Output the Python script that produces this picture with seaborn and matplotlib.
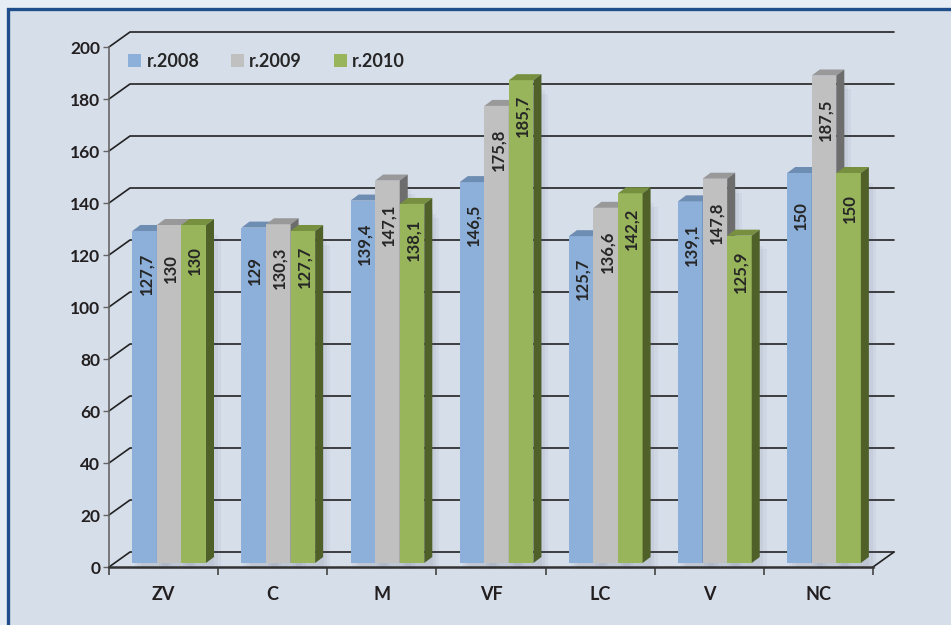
# 3D-style grouped bar chart (r.2008 / r.2009 / r.2010) redrawn with seaborn
import pandas as pd
import seaborn as sns
import matplotlib.pyplot as plt
from matplotlib.patches import Polygon, Patch, Rectangle
from matplotlib.transforms import ScaledTranslation

# Step 1: data
categories = ['ZV', 'C', 'M', 'VF', 'LC', 'V', 'NC']
years = ['r.2008', 'r.2009', 'r.2010']
v2008 = [127.7, 129, 139.4, 146.5, 125.7, 139.1, 150]
v2009 = [130, 130.3, 147.1, 175.8, 136.6, 147.8, 187.5]
v2010 = [130, 127.7, 138.1, 185.7, 142.2, 125.9, 150]
yticks = list(range(0, 201, 20))

df = pd.DataFrame({
    'cat': categories * 3,
    'year': [years[0]] * 7 + [years[1]] * 7 + [years[2]] * 7,
    'value': v2008 + v2009 + v2010,
})

# colours: front, top, side
front = {'r.2008': '#8db0da', 'r.2009': '#c0c0c0', 'r.2010': '#98b55b'}
top = {'r.2008': '#6e8db3', 'r.2009': '#999999', 'r.2010': '#76903f'}
side = {'r.2008': '#55729a', 'r.2009': '#6d6d6d', 'r.2010': '#4f6129'}

# Step 2: figure and frame
sns.set_style('white')
plt.rcParams['font.family'] = ['Lato', 'DejaVu Sans']
W, H = 951, 625
fig = plt.figure(figsize=(W / 100, H / 100), dpi=100, facecolor='#e7edf4')
fig.patches.append(Rectangle((8 / W, -0.05), 1.0, 1 - 9 / H + 0.05,
                             transform=fig.transFigure, facecolor='#d6deea',
                             edgecolor='#1f4e8a', lw=2.4, zorder=-10))

L, R, B, T = 109, 873, 567, 47
ax = fig.add_axes([L / W, 1 - B / H, (R - L) / W, (B - T) / H])
ax.set_facecolor('none')
px_x = (R - L) / 7.0      # pixels per category
px_y = (B - T) / 200.0    # pixels per unit

# Step 3: back wall gridlines (perspective offset)
wx, wy = 21 / px_x, 15 / px_y
for t in yticks:
    ax.plot([-0.5, -0.5 + wx, 6.5 + wx], [t, t + wy, t + wy],
            color='#222222', lw=1.2, clip_on=False, zorder=1)
ax.plot([6.5, 6.5 + wx], [0, wy], color='#222222', lw=1.2, clip_on=False, zorder=1)

# Step 4: bars
sns.barplot(data=df, x='cat', y='value', hue='year', order=categories,
            hue_order=years, palette=front, width=0.675, saturation=1,
            legend=False, ax=ax)
ax.set_xlim(-0.5, 6.5)
ax.set_ylim(0, 200)

shift = ax.transData + ScaledTranslation(5.6 / 100, 4 / 100, fig.dpi_scale_trans)
shadow = ax.transData + ScaledTranslation(14 / 100, -2 / 100, fig.dpi_scale_trans)
dx, dy = 8 / px_x, 6 / px_y
label_drop = {'r.2008': 43, 'r.2009': 44, 'r.2010': 36}   # px from top to label centre

bars = sorted(ax.patches, key=lambda p: p.get_x())
for i, bar in enumerate(bars):
    x0, w, h = bar.get_x(), bar.get_width(), bar.get_height()
    yr = years[i % 3]
    z = 3 + 0.01 * i
    # soft drop shadow
    for k, a in enumerate([0.05, 0.05, 0.05]):
        ax.add_patch(Rectangle((x0 - k * 0.03, 0), w + k * 0.06, h - k * 1.5,
                               facecolor='#404a66', alpha=a, edgecolor='none',
                               transform=shadow, zorder=2, clip_on=False))
    bar.set_transform(shift)
    bar.set_edgecolor('none')
    bar.set_zorder(z)
    bar.set_clip_on(False)
    ax.add_patch(Polygon([(x0, h), (x0 + w, h), (x0 + w + dx, h + dy), (x0 + dx, h + dy)],
                         closed=True, facecolor=top[yr], edgecolor='none',
                         transform=shift, zorder=z + 0.001, clip_on=False))
    ax.add_patch(Polygon([(x0 + w, 0), (x0 + w + dx, dy), (x0 + w + dx, h + dy), (x0 + w, h)],
                         closed=True, facecolor=side[yr], edgecolor='none',
                         transform=shift, zorder=z + 0.001, clip_on=False))
    txt = f'{h:g}'.replace('.', ',')
    ax.annotate(txt, (x0 + w / 2, h), xycoords=shift, xytext=(1, -label_drop[yr] * 0.72),
                textcoords='offset points', rotation=90, ha='center', va='center',
                fontsize=12, fontweight='bold', color='#262626', zorder=10)

# Step 5: axes styling
sns.despine(ax=ax, top=True, right=True)
ax.spines['left'].set_color('#666666')
ax.spines['left'].set_linewidth(1.2)
ax.spines['bottom'].set_color('#333333')
ax.spines['bottom'].set_linewidth(1.8)
ax.set_yticks(yticks)
ax.set_yticklabels([str(t) for t in yticks], fontsize=12.5, fontweight='bold', color='#231f20')
ax.tick_params(axis='y', direction='out', length=4.3, width=1, color='#666666', pad=2, left=True)

ax.set_xticks([k - 0.5 for k in range(8)])
ax.set_xticklabels([''] * 8)
ax.tick_params(axis='x', which='major', direction='out', length=5.8, width=1.2,
               color='#444444', bottom=True)
ax.set_xticks(range(7), minor=True)
ax.set_xticklabels(categories, minor=True, fontsize=13, fontweight='bold', color='#231f20')
ax.tick_params(axis='x', which='minor', length=0, pad=14)
ax.set_xlabel('')
ax.set_ylabel('')

# Step 6: legend
handles = [Patch(facecolor=front[y], edgecolor='none', label=y) for y in years]
ax.legend(handles=handles, loc='upper left', bbox_to_anchor=(128 / W, 1 - 53 / H),
          bbox_transform=fig.transFigure, ncol=3, frameon=False, borderpad=0,
          borderaxespad=0, handlelength=0.72, handleheight=0.72, handletextpad=0.3,
          columnspacing=1.75, prop={'weight': 'bold', 'size': 13})

plt.savefig('out.png', dpi=100, facecolor=fig.get_facecolor())
